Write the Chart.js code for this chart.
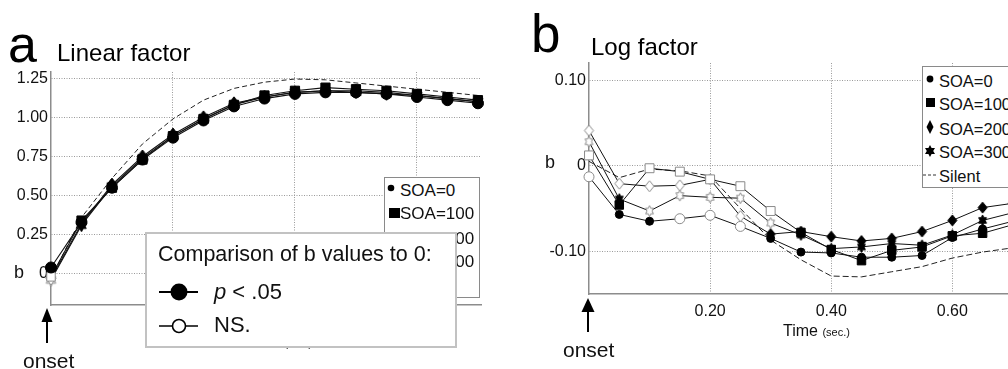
<!DOCTYPE html>
<html>
<head>
<meta charset="utf-8">
<script src="https://cdn.jsdelivr.net/npm/chart.js@4.4.1/dist/chart.umd.min.js"></script>
<style>
  html, body { margin: 0; padding: 0; background: #fff; }
  body {
    width: 1008px; height: 369px; overflow: hidden; position: relative;
    font-family: Arial, "Liberation Sans", sans-serif; color: #111;
  }
  .abs { position: absolute; white-space: nowrap; }
  .txt { position: absolute; white-space: nowrap; line-height: 1; }
  .legend { position: absolute; background: #fff; border: 1px solid #8a8a8a; box-sizing: border-box; }
  .row { position: absolute; white-space: nowrap; line-height: 20px; height: 20px; }
</style>
</head>
<body>

<canvas id="linearChart" class="abs" width="500" height="369" style="left:0;top:0"></canvas>
<canvas id="logChart" class="abs" width="540" height="369" style="left:500px;top:0"></canvas>

<!-- panel a headings -->
<div class="txt" style="left:8px;top:18px;font-size:52px;color:#000">a</div>
<div class="txt" style="left:57px;top:41px;font-size:24px;color:#000">Linear factor</div>
<div class="txt" style="left:14px;top:263px;font-size:18px">b</div>
<div class="txt" style="left:245px;top:334px;font-size:16px">Time <span style="font-size:11px">(sec.)</span></div>
<svg class="abs" style="left:0;top:300px" width="100" height="50">
  <line x1="47" y1="20" x2="47" y2="43" stroke="#000" stroke-width="2"/>
  <polygon points="41.5,22 47,8 52.5,22" fill="#000"/>
</svg>
<div class="txt" style="left:23px;top:350px;font-size:21px">onset</div>

<!-- panel a series legend -->
<div class="legend" style="left:384px;top:177px;width:96px;height:121px"></div>
<svg class="abs" style="left:384px;top:177px" width="20" height="121">
  <circle cx="7" cy="11" r="3.3" fill="#000"/>
  <rect x="5" y="31" width="11" height="10" fill="#000"/>
  <polygon points="9,55 13,62 9,69 5,62" fill="#000"/>
  <polygon points="9,79 10.7,82 14.2,82 12.4,85 14.2,88 10.7,88 9,91 7.3,88 3.8,88 5.6,85 3.8,82 7.3,82" fill="#000"/>
  <line x1="3" y1="108" x2="15" y2="108" stroke="#333" stroke-width="1" stroke-dasharray="3,2"/>
</svg>
<div class="row" style="left:400px;top:181px;font-size:17px">SOA=0</div>
<div class="row" style="left:400px;top:204px;font-size:17px">SOA=100</div>
<div class="row" style="left:400px;top:229px;font-size:17px">SOA=200</div>
<div class="row" style="left:400px;top:252px;font-size:17px">SOA=300</div>
<div class="row" style="left:400px;top:275px;font-size:17px">Silent</div>

<!-- significance key -->
<div class="legend" style="left:145px;top:232px;width:312px;height:116px;border:2px solid #c2c2c2"></div>
<div class="txt" style="left:158px;top:244px;font-size:21.5px">Comparison of b values to 0:</div>
<svg class="abs" style="left:150px;top:275px" width="60" height="65">
  <line x1="9" y1="17" x2="48" y2="17" stroke="#000" stroke-width="2"/>
  <circle cx="29" cy="17" r="8.5" fill="#000"/>
  <line x1="9" y1="51" x2="48" y2="51" stroke="#000" stroke-width="1.6"/>
  <circle cx="29" cy="51" r="6.5" fill="#fff" stroke="#000" stroke-width="1.6"/>
</svg>
<div class="txt" style="left:214px;top:281px;font-size:22px"><i>p</i> &lt; .05</div>
<div class="txt" style="left:214px;top:314px;font-size:22px">NS.</div>

<!-- panel b headings -->
<div class="txt" style="left:531px;top:7px;font-size:53px;color:#000">b</div>
<div class="txt" style="left:591px;top:35px;font-size:24px;color:#000">Log factor</div>
<div class="txt" style="left:545px;top:153px;font-size:18px">b</div>
<div class="txt" style="left:783px;top:323px;font-size:16px">Time <span style="font-size:11px">(sec.)</span></div>
<svg class="abs" style="left:560px;top:290px" width="60" height="50">
  <line x1="28" y1="20" x2="28" y2="42" stroke="#000" stroke-width="2"/>
  <polygon points="21.5,22 28,8 34.5,22" fill="#000"/>
</svg>
<div class="txt" style="left:563px;top:339px;font-size:21px">onset</div>

<!-- panel b series legend -->
<div class="legend" style="left:922px;top:66px;width:120px;height:122px"></div>
<svg class="abs" style="left:920px;top:66px" width="20" height="122">
  <circle cx="10" cy="13" r="3.4" fill="#000"/>
  <rect x="6" y="32" width="9" height="9" fill="#000"/>
  <polygon points="10,54 13.5,61 10,68 6.5,61" fill="#000"/>
  <polygon points="10,79 11.6,82 15,82 13.2,85 15,88 11.6,88 10,91 8.4,88 5,88 6.8,85 5,82 8.4,82" fill="#000"/>
  <line x1="3" y1="109" x2="16" y2="109" stroke="#333" stroke-width="1" stroke-dasharray="3,2"/>
</svg>
<div class="row" style="left:939px;top:71px;font-size:16.5px">SOA=0</div>
<div class="row" style="left:939px;top:94px;font-size:16.5px">SOA=100</div>
<div class="row" style="left:939px;top:119px;font-size:16.5px">SOA=200</div>
<div class="row" style="left:939px;top:142px;font-size:16.5px">SOA=300</div>
<div class="row" style="left:939px;top:166px;font-size:16.5px">Silent</div>

<script>
// time after onset (sec.)
const timeSec = [0, 0.05, 0.10, 0.15, 0.20, 0.25, 0.30, 0.35, 0.40, 0.45, 0.50, 0.55, 0.60, 0.65, 0.70];
const timeTicks = [0.2, 0.4, 0.6];

// linear factor b values
const linSoa0   = [0.04, 0.33, 0.55, 0.73, 0.87, 0.98, 1.07, 1.12, 1.15, 1.16, 1.16, 1.15, 1.13, 1.11, 1.09];
const linSoa100 = [-0.02, 0.34, 0.55, 0.73, 0.88, 0.99, 1.08, 1.14, 1.17, 1.19, 1.18, 1.17, 1.15, 1.13, 1.11];
const linSoa200 = [-0.03, 0.32, 0.57, 0.75, 0.89, 1.00, 1.09, 1.13, 1.16, 1.17, 1.17, 1.16, 1.14, 1.12, 1.10];
const linSoa300 = [-0.04, 0.31, 0.56, 0.74, 0.88, 0.99, 1.08, 1.13, 1.16, 1.17, 1.16, 1.15, 1.14, 1.12, 1.10];
const linSilent = [-0.03, 0.36, 0.61, 0.83, 0.99, 1.11, 1.185, 1.225, 1.245, 1.24, 1.22, 1.20, 1.18, 1.16, 1.14];
// 1 = p < .05, 0 = NS.
const linSig0   = [1, 1, 1, 1, 1, 1, 1, 1, 1, 1, 1, 1, 1, 1, 1];
const linSig100 = [0, 1, 1, 1, 1, 1, 1, 1, 1, 1, 1, 1, 1, 1, 1];
const linSig200 = [0, 1, 1, 1, 1, 1, 1, 1, 1, 1, 1, 1, 1, 1, 1];
const linSig300 = [0, 1, 1, 1, 1, 1, 1, 1, 1, 1, 1, 1, 1, 1, 1];
const linTicksY = [0, 0.25, 0.5, 0.75, 1, 1.25];

// log factor b values
const logSoa0   = [-0.013, -0.057, -0.065, -0.062, -0.058, -0.071, -0.085, -0.101, -0.102, -0.107, -0.107, -0.105, -0.084, -0.074, -0.065];
const logSoa100 = [0.012, -0.046, -0.003, -0.007, -0.016, -0.024, -0.053, -0.078, -0.098, -0.111, -0.099, -0.095, -0.082, -0.079, -0.069];
const logSoa200 = [0.041, -0.021, -0.024, -0.023, -0.016, -0.059, -0.080, -0.077, -0.083, -0.088, -0.085, -0.077, -0.064, -0.049, -0.044];
const logSoa300 = [0.028, -0.039, -0.053, -0.035, -0.037, -0.038, -0.067, -0.081, -0.097, -0.095, -0.091, -0.093, -0.081, -0.064, -0.055];
const logSilent = [0.005, -0.014, -0.004, -0.006, -0.012, -0.050, -0.087, -0.110, -0.129, -0.130, -0.124, -0.118, -0.108, -0.101, -0.096];
const logSig0   = [0, 1, 1, 0, 0, 0, 1, 1, 1, 1, 1, 1, 1, 1, 1];
const logSig100 = [0, 1, 0, 0, 0, 0, 0, 1, 1, 1, 1, 1, 1, 1, 1];
const logSig200 = [0, 0, 0, 0, 0, 0, 1, 1, 1, 1, 1, 1, 1, 1, 1];
const logSig300 = [0, 1, 0, 0, 0, 0, 0, 1, 1, 1, 1, 1, 1, 1, 1];
const logTicksY = [-0.1, 0, 0.1];

const FONT = 'Arial, "Liberation Sans", sans-serif';

// small bitmaps for the diamond and six-pointed star markers
function markerBitmap(kind, w, h, filled) {
  const c = document.createElement('canvas');
  c.width = Math.ceil(w) + 4;
  c.height = Math.ceil(h) + 4;
  const g = c.getContext('2d');
  const cx = c.width / 2, cy = c.height / 2;
  g.beginPath();
  if (kind === 'diamond') {
    g.moveTo(cx, cy - h / 2);
    g.lineTo(cx + w / 2, cy);
    g.lineTo(cx, cy + h / 2);
    g.lineTo(cx - w / 2, cy);
  } else {
    const R = h / 2, r = R / Math.sqrt(3), sx = w / h;
    for (let k = 0; k < 12; k++) {
      const a = -Math.PI / 2 + k * Math.PI / 6;
      const rr = k % 2 ? r : R;
      const x = cx + rr * Math.cos(a) * sx, y = cy + rr * Math.sin(a);
      if (k) g.lineTo(x, y); else g.moveTo(x, y);
    }
  }
  g.closePath();
  g.fillStyle = filled ? '#000' : '#fff';
  g.fill();
  g.lineWidth = 1;
  g.strokeStyle = filled ? '#000' : '#8a8a8a';
  g.stroke();
  return c;
}

function markedSeries(label, values, sig, shape, rFilled, rOpen, lineWidth) {
  return {
    label,
    data: values.map((v, i) => ({ x: timeSec[i], y: v })),
    borderColor: '#111',
    borderWidth: lineWidth,
    pointStyle: sig.map(s => typeof shape === 'function' ? shape(s) : shape),
    pointRadius: sig.map(s => s ? rFilled : rOpen),
    pointBackgroundColor: sig.map(s => s ? '#000' : '#fff'),
    pointBorderColor: sig.map(s => s ? '#000' : '#8a8a8a'),
    pointBorderWidth: 1,
    tension: 0,
    clip: false
  };
}

function silentSeries(values, dash) {
  return {
    label: 'Silent',
    data: values.map((v, i) => ({ x: timeSec[i], y: v })),
    borderColor: '#222',
    borderWidth: 1,
    borderDash: dash,
    pointRadius: 0,
    tension: 0,
    clip: false
  };
}

function scalesFor(xMax, yMin, yMax, yTicks, yWidth, xHeight) {
  const gridStyle = { color: '#9a9a9a', lineWidth: 1, drawTicks: false };
  const borderStyle = { display: true, color: '#8c8c8c', width: 1.5, dash: [1, 1.5] };
  return {
    x: {
      type: 'linear', min: 0, max: xMax,
      afterBuildTicks: s => { s.ticks = timeTicks.map(v => ({ value: v })); },
      afterFit: s => { s.height = xHeight; },
      grid: gridStyle, border: borderStyle,
      ticks: { color: '#111', padding: 8, font: { family: FONT, size: 16 },
               callback: v => v.toFixed(2) }
    },
    y: {
      type: 'linear', min: yMin, max: yMax,
      afterBuildTicks: s => { s.ticks = yTicks.map(v => ({ value: v })); },
      afterFit: s => { s.width = yWidth; },
      grid: gridStyle, border: borderStyle,
      ticks: { color: '#111', padding: 3, font: { family: FONT, size: 16 },
               callback: v => Math.abs(v) < 1e-9 ? '0' : v.toFixed(2) }
    }
  };
}

const baseOptions = {
  responsive: false,
  devicePixelRatio: 1,
  animation: false,
  events: [],
  plugins: { legend: { display: false }, tooltip: { enabled: false } }
};

// a: linear factor
const diamondA = s => markerBitmap('diamond', 10, 13, !!s);
const starA = s => markerBitmap('star', 11, 13, !!s);
new Chart(document.getElementById('linearChart'), {
  type: 'line',
  data: {
    datasets: [
      markedSeries('SOA=0', linSoa0, linSig0, 'circle', 5.5, 5, 1.1),
      markedSeries('SOA=100', linSoa100, linSig100, 'rect', 6.5, 6, 1.1),
      markedSeries('SOA=200', linSoa200, linSig200, diamondA, 6, 6, 1.1),
      markedSeries('SOA=300', linSoa300, linSig300, starA, 6, 6, 1.1),
      silentSeries(linSilent, [5, 3])
    ]
  },
  options: Object.assign({}, baseOptions, {
    layout: { padding: { left: 0, top: 72, right: 19, bottom: 24 } },
    scales: scalesFor(0.705, -0.2, 1.29, linTicksY, 51, 40)
  })
});

// b: log factor
const diamondB = s => markerBitmap('diamond', 9, 11, !!s);
const starB = s => markerBitmap('star', 9, 11, !!s);
new Chart(document.getElementById('logChart'), {
  type: 'line',
  data: {
    datasets: [
      markedSeries('SOA=0', logSoa0, logSig0, 'circle', 4, 5, 1),
      markedSeries('SOA=100', logSoa100, logSig100, 'rect', 6, 6.3, 1),
      markedSeries('SOA=200', logSoa200, logSig200, diamondB, 5, 5, 1),
      markedSeries('SOA=300', logSoa300, logSig300, starB, 5, 5, 1),
      silentSeries(logSilent, [6, 3])
    ]
  },
  options: Object.assign({}, baseOptions, {
    layout: { padding: { left: 0, top: 63, right: 15, bottom: 35 } },
    scales: scalesFor(0.72, -0.15, 0.12, logTicksY, 89, 40)
  })
});
</script>
</body>
</html>
